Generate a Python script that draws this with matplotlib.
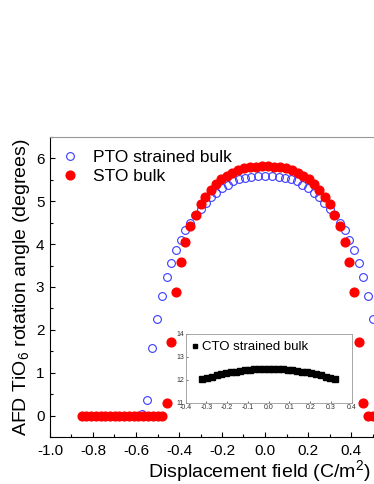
import matplotlib
matplotlib.use('Agg')
import matplotlib.pyplot as plt
from matplotlib.ticker import MultipleLocator, FormatStrFormatter

plt.rcParams['font.family'] = ['Liberation Sans', 'DejaVu Sans']
plt.rcParams['mathtext.fontset'] = 'custom'
plt.rcParams['mathtext.rm'] = 'Liberation Sans'
plt.rcParams['mathtext.default'] = 'regular'
plt.rcParams['axes.unicode_minus'] = False

# PTO strained bulk (open blue circles)
pto_D = [-0.573, -0.550, -0.527, -0.504, -0.481, -0.458, -0.436, -0.414, -0.392, -0.370,
         -0.347, -0.324, -0.300, -0.276, -0.251, -0.226, -0.200, -0.174, -0.147, -0.120,
         -0.092, -0.063, -0.033, 0.000, 0.033, 0.063, 0.092, 0.120, 0.147, 0.174,
         0.200, 0.226, 0.251, 0.276, 0.300, 0.324, 0.347, 0.370, 0.392, 0.414,
         0.436, 0.458, 0.481, 0.504, 0.527, 0.550, 0.573]
pto_angle = [0.04, 0.37, 1.58, 2.26, 2.79, 3.23, 3.57, 3.86, 4.10, 4.32,
             4.50, 4.67, 4.83, 4.97, 5.09, 5.20, 5.30, 5.38, 5.47, 5.52,
             5.55, 5.57, 5.58, 5.58, 5.58, 5.57, 5.55, 5.52, 5.47, 5.38,
             5.30, 5.20, 5.09, 4.97, 4.83, 4.67, 4.50, 4.32, 4.10, 3.86,
             3.57, 3.23, 2.79, 2.26, 1.58, 0.37, 0.04]

# STO bulk (filled red circles)
sto_D = [-0.853, -0.831, -0.809, -0.787, -0.765, -0.743, -0.721, -0.699, -0.677, -0.655,
         -0.633, -0.611, -0.589, -0.567, -0.545, -0.523, -0.500, -0.478,
         -0.457, -0.436, -0.414, -0.392, -0.370, -0.347, -0.323, -0.300, -0.277, -0.253,
         -0.229, -0.204, -0.178, -0.152, -0.125, -0.098, -0.070, -0.042, -0.014,
         0.014, 0.042, 0.070, 0.098, 0.125, 0.152, 0.178, 0.204, 0.229,
         0.253, 0.277, 0.300, 0.323, 0.347, 0.370, 0.392, 0.414, 0.436, 0.457,
         0.478, 0.500, 0.523, 0.545, 0.567, 0.589, 0.611, 0.633, 0.655, 0.677,
         0.699, 0.721, 0.743, 0.765, 0.787, 0.809, 0.831, 0.853]
sto_angle = [0, 0, 0, 0, 0, 0, 0, 0, 0, 0,
             0, 0, 0, 0, 0, 0, 0, 0,
             0.29, 1.72, 2.89, 3.58, 4.06, 4.43, 4.69, 4.93, 5.11, 5.27,
             5.40, 5.51, 5.60, 5.67, 5.72, 5.77, 5.80, 5.81, 5.82,
             5.82, 5.81, 5.80, 5.77, 5.72, 5.67, 5.60, 5.51, 5.40,
             5.27, 5.11, 4.93, 4.69, 4.43, 4.06, 3.58, 2.89, 1.72, 0.29,
             0, 0, 0, 0, 0, 0, 0, 0, 0, 0,
             0, 0, 0, 0, 0, 0, 0, 0]

# CTO strained bulk (inset)
cto_D = [-0.320, -0.297, -0.274, -0.251, -0.229, -0.206, -0.183, -0.160, -0.137, -0.114,
         -0.091, -0.069, -0.046, -0.023, 0.000, 0.023, 0.046, 0.069, 0.091, 0.114,
         0.137, 0.160, 0.183, 0.206, 0.229, 0.251, 0.274, 0.297, 0.320]
cto_angle = [12.02, 12.08, 12.14, 12.19, 12.24, 12.28, 12.32, 12.36, 12.39, 12.41,
             12.43, 12.45, 12.46, 12.47, 12.47, 12.47, 12.46, 12.45, 12.43, 12.41,
             12.39, 12.36, 12.32, 12.28, 12.24, 12.19, 12.14, 12.08, 12.02]

fig = plt.figure(figsize=(3.74, 4.84), dpi=100)
# main axes runs past the right edge of the figure (picture is cropped)
ax = fig.add_axes([50 / 374, 47 / 484, 430 / 374, 300 / 484])

ax.plot(pto_D, pto_angle, 'o', mfc='none', mec='#3a3aff', mew=0.8, ms=5.6,
        label='PTO strained bulk')
ax.plot(sto_D, sto_angle, 'o', color='red', ms=6.3, label='STO bulk')

ax.set_xlim(-1.0, 1.0)
ax.set_ylim(-0.5, 6.5)
ax.xaxis.set_major_locator(MultipleLocator(0.2))
ax.xaxis.set_minor_locator(MultipleLocator(0.1))
ax.xaxis.set_major_formatter(FormatStrFormatter('%.1f'))
ax.yaxis.set_major_locator(MultipleLocator(1))
ax.yaxis.set_minor_locator(MultipleLocator(0.5))
ax.tick_params(which='both', direction='in', labelsize=11, width=0.8)
ax.tick_params(which='major', length=3.5)
ax.tick_params(which='minor', length=2)
ax.tick_params(axis='x', pad=5)
ax.tick_params(axis='y', pad=4)
for s in ax.spines.values():
    s.set_linewidth(0.8)
ax.spines['top'].set_color('#999999')

ax.set_xlabel('Displacement field (C/m$^2$)', fontsize=14, labelpad=2)
ax.xaxis.set_label_coords(0.486, -0.07)
ax.set_ylabel('AFD TiO$_6$ rotation angle (degrees)', fontsize=14, labelpad=3)

ax.legend(loc='upper left', frameon=False, fontsize=12.5, numpoints=1,
          handlelength=0.8, handletextpad=0.95, labelspacing=0.22,
          borderaxespad=0.45, borderpad=0.3)

# inset
ins = fig.add_axes([185.7 / 374, (484 - 402.7) / 484, 166 / 374, 68.7 / 484])
ins.plot(cto_D, cto_angle, 's', color='black', ms=4.0, label='CTO strained bulk')
ins.set_xlim(-0.4, 0.4)
ins.set_ylim(11, 14)
ins.xaxis.set_major_locator(MultipleLocator(0.1))
ins.xaxis.set_major_formatter(FormatStrFormatter('%.1f'))
ins.yaxis.set_major_locator(MultipleLocator(1))
ins.tick_params(direction='in', labelsize=5, length=1.5, width=0.5, pad=1.2,
                colors='#333333')
for s in ins.spines.values():
    s.set_linewidth(0.6)
    s.set_color('#999999')
ins.legend(loc='upper left', frameon=False, fontsize=9.5, numpoints=1,
           handlelength=0.35, handletextpad=0.3, borderaxespad=0.25, borderpad=0.3,
           markerscale=0.6)

fig.savefig('out.png', dpi=100)
